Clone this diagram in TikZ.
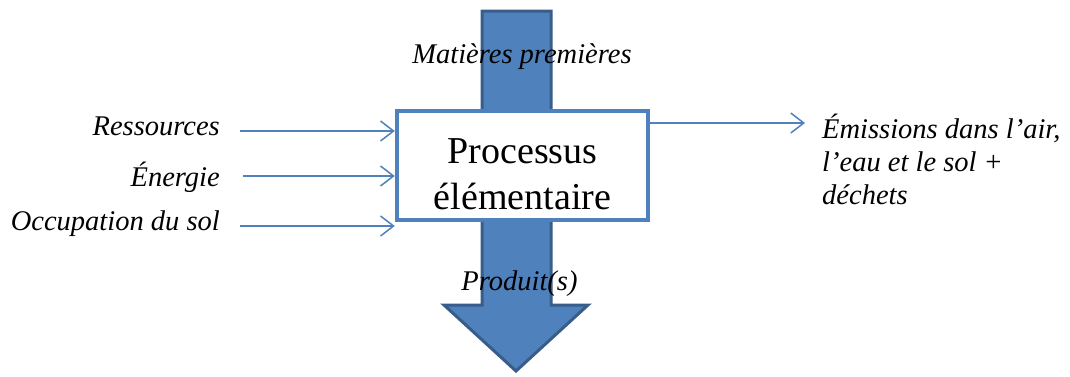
\documentclass[tikz,border=0pt]{standalone}
\usepackage{fontspec}
\setmainfont{Liberation Serif}
\usetikzlibrary{arrows.meta}
\definecolor{boxblue}{HTML}{4F81BD}
\definecolor{darkblue}{HTML}{385D8A}
\begin{document}
\begin{tikzpicture}[x=1pt,y=1pt,
  lab/.style={font=\fontsize{28.5}{33}\selectfont\itshape, inner sep=0pt},
  flow/.style={draw=boxblue, line width=1.5pt, -{Straight Barb[length=13pt,width=20pt,line width=1.5pt]}},
  procbox/.style={draw=boxblue, fill=white, line width=4.5pt, minimum width=251pt, minimum height=109pt, inner sep=0pt},
  bigarrow/.style={fill=boxblue, draw=darkblue, line width=3pt, line join=miter}
]
\useasboundingbox[fill=white] (0,0) rectangle (1070,376);
% big vertical arrow (behind the box)
\draw[bigarrow] (482,365) -- (551,365) -- (551,71) -- (588,71) -- (516,5) -- (444,71) -- (482,71) -- cycle;
% box
\node[procbox] (box) at (522.5,210.5) {};
\node[inner sep=0pt, align=center, font=\fontsize{38}{46}\selectfont, anchor=base] (ptext) at (522.5,167) {Processus\\élémentaire};
% labels on the big arrow
\node[lab, anchor=base] (mat) at (522,313) {Matières premières};
\node[lab, anchor=base] (prod) at (519.5,86) {Produit(s)};
% left inputs
\node[lab, anchor=base east] (res) at (220,241) {Ressources};
\node[lab, anchor=base east] (ene) at (220,190) {Énergie};
\node[lab, anchor=base east] (occ) at (220,146) {Occupation du sol};
\coordinate (resS) at (240,245);
\coordinate (eneS) at (243,200);
\coordinate (occS) at (240,150);
\draw[flow] (resS) -- (resS -| box.west);
\draw[flow] (eneS) -- (eneS -| box.west);
\draw[flow] (occS) -- (occS -| box.west);
% right output
\node[lab, anchor=base west, align=left] (emi) at (822,172) {Émissions dans l’air,\\l’eau et le sol +\\déchets};
\coordinate (emiE) at (805,253);
\draw[flow] (emiE -| box.east) -- (emiE);
\end{tikzpicture}
\end{document}
